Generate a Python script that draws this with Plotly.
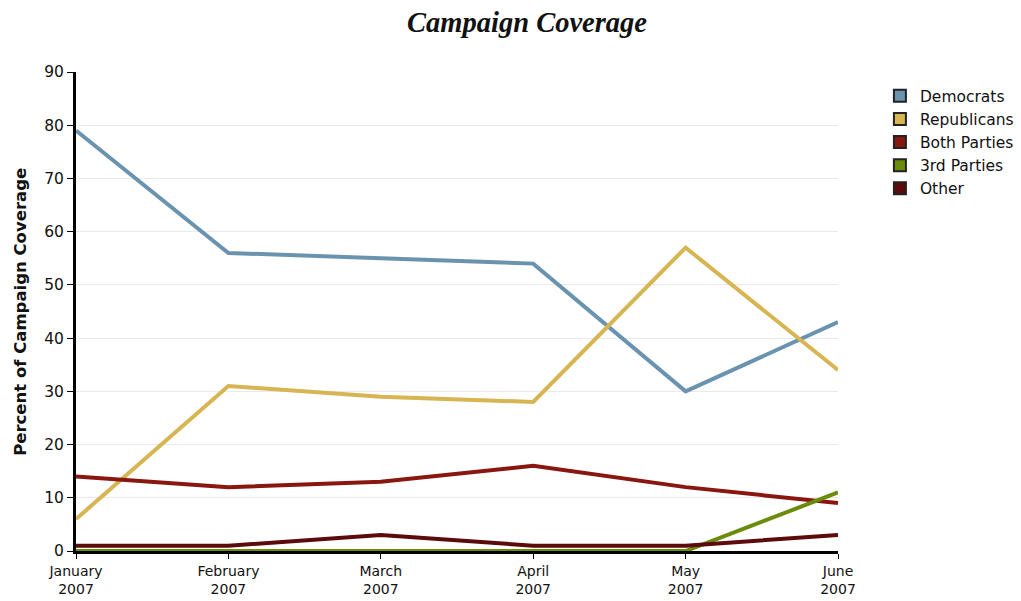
import plotly.graph_objects as go

months = ["January<br>2007", "February<br>2007", "March<br>2007", "April<br>2007", "May<br>2007", "June<br>2007"]
democrats = [79, 56, 55, 54, 30, 43]
republicans = [6, 31, 29, 28, 57, 34]
both_parties = [14, 12, 13, 16, 12, 9]
third_parties = [0, 0, 0, 0, 0, 11]
other = [1, 1, 3, 1, 1, 3]

series = [
    ("Democrats", democrats, "#6a93b0"),
    ("Republicans", republicans, "#d6b552"),
    ("Both Parties", both_parties, "#8a1610"),
    ("3rd Parties", third_parties, "#6b8c0a"),
    ("Other", other, "#5c0a0a"),
]

fig = go.Figure()
for name, vals, color in series:
    fig.add_trace(go.Scatter(x=months, y=vals, mode="lines", name=name,
                             line=dict(color=color, width=4), showlegend=False,
                             cliponaxis=False))
for name, vals, color in series:
    fig.add_trace(go.Scatter(x=[None], y=[None], mode="markers", name=name,
                             marker=dict(symbol="square", size=11, color=color,
                                         line=dict(color="#222222", width=1))))

fig.add_annotation(text="<b>Percent of Campaign Coverage</b>", xref="paper", yref="paper",
                   x=-0.073, y=0.5, xanchor="center", yanchor="middle", textangle=-90,
                   showarrow=False, font=dict(family="DejaVu Sans", size=16.5, color="#111111"))

fig.update_layout(
    width=1021, height=601,
    margin=dict(l=76, r=183, t=72, b=50, autoexpand=False),
    paper_bgcolor="white", plot_bgcolor="white",
    title=dict(text="Campaign Coverage", x=527/1021, xanchor="center", y=1 - 22/601, yref="container",
               yanchor="middle",
               font=dict(family="Liberation Serif", size=28.5, color="#111111", style="italic", weight="bold")),
    font=dict(family="DejaVu Sans", size=15, color="#111111"),
    legend=dict(x=1.055, y=0.985, xanchor="left", yanchor="top", tracegroupgap=0,
                font=dict(family="DejaVu Sans", size=15.5, color="#111111"),
                itemsizing="constant"),
    xaxis=dict(type="category", range=[0, 5], showgrid=False, showline=True, linecolor="black",
               linewidth=3, ticks="outside", ticklen=5, tickcolor="black", tickwidth=1,
               tickfont=dict(size=14), zeroline=False, automargin=False),
    yaxis=dict(range=[0, 90], dtick=10, showgrid=True, gridcolor="#eaeaea", gridwidth=1,
               showline=True, linecolor="black", linewidth=3, ticks="outside", ticklen=6,
               tickcolor="black", tickwidth=1, tickfont=dict(size=15.5), zeroline=False,
               automargin=False),
)

fig.write_html("out.html", post_script="document.body.style.margin='0';",
               config={"displayModeBar": False})
